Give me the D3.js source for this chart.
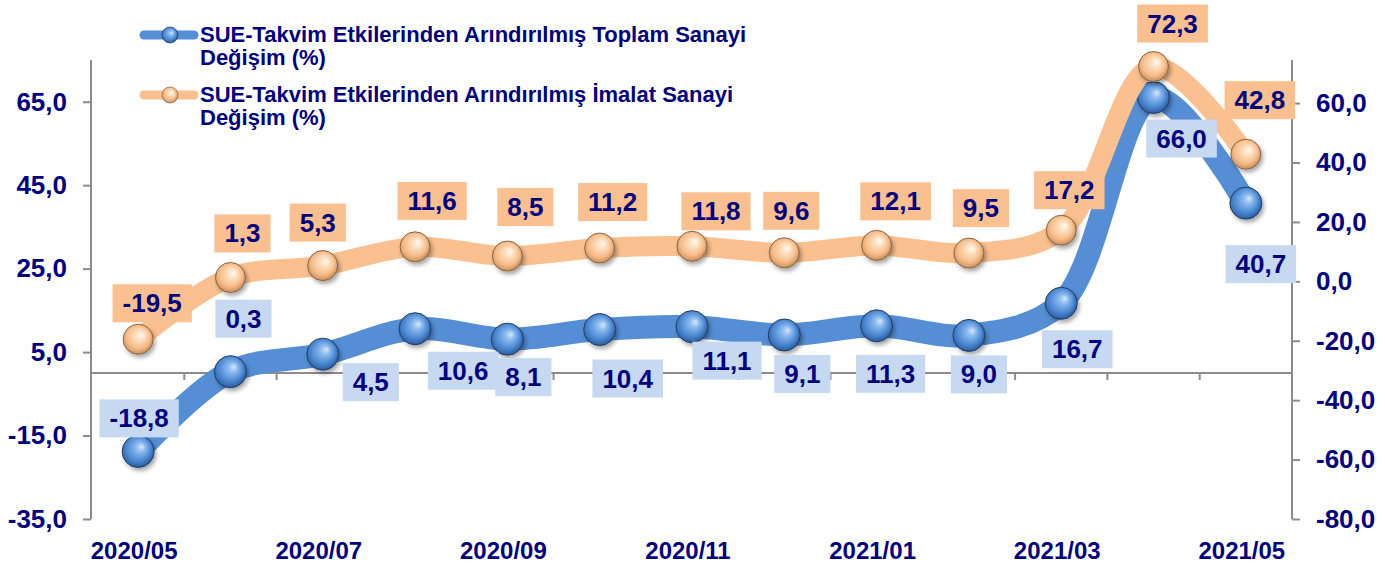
<!DOCTYPE html>
<html>
<head>
<meta charset="utf-8">
<script src="https://cdn.jsdelivr.net/npm/d3@7"></script>
<style>
  body { margin: 0; background: #fff; }
  svg text { font-family: "Liberation Sans", Arial, sans-serif; font-weight: bold; fill: #000080; }
</style>
</head>
<body>
<script>
// Data
const months = ['2020/05', '2020/06', '2020/07', '2020/08', '2020/09', '2020/10', '2020/11',
                '2020/12', '2021/01', '2021/02', '2021/03', '2021/04', '2021/05'];
const toplam = [-18.8, 0.3, 4.5, 10.6, 8.1, 10.4, 11.1, 9.1, 11.3, 9.0, 16.7, 66.0, 40.7];
const imalat = [-19.5, 1.3, 5.3, 11.6, 8.5, 11.2, 11.8, 9.6, 12.1, 9.5, 17.2, 72.3, 42.8];
const leftTicks = [-35, -15, 5, 25, 45, 65];
const rightTicks = [-80, -60, -40, -20, 0, 20, 40, 60];
const shownMonths = ['2020/05', '2020/07', '2020/09', '2020/11', '2021/01', '2021/03', '2021/05'];
const legendLines = [
  ['SUE-Takvim Etkilerinden Arındırılmış Toplam Sanayi', 'Değişim (%)'],
  ['SUE-Takvim Etkilerinden Arındırılmış İmalat Sanayi', 'Değişim (%)']
];

// label placement (offset of box centre from the point)
const toplamLabelOff = [[1,-33],[13,-53],[48,28],[48,42],[16,38],[28,49],[35,34],[18,39],[14,48],[10,39],[16,46],[28,41],[15,61]];
const imalatLabelOff = [[14,-36],[12,-44],[-5,-43],[17,-46],[18,-49],[13,-46],[24,-35],[7,-42],[19,-44],[12,-45],[8,-40],[19,-43],[14,-54]];

const width = 1385, height = 565;
const plotTop = 60, plotBottom = 519, plotLeft = 92, plotRight = 1292;

const loc = d3.formatLocale({ decimal: ',', thousands: '.', grouping: [3], currency: ['', ''], minus: '-' });
const fmt = loc.format('.1f');

const x = d3.scaleBand().domain(months).range([plotLeft, plotRight]).paddingInner(0).paddingOuter(0);
const cx = d => x(d) + x.bandwidth() / 2;
const yL = d3.scaleLinear().domain([-35, 65]).range([plotBottom, plotBottom - 100 * 459 / 110]);
const yR = d3.scaleLinear().domain([-80, 60]).range([plotBottom, plotBottom - 140 * 459 / 154.5]);

const svg = d3.select('body').append('svg')
  .attr('width', width)
  .attr('height', height);

const defs = svg.append('defs');
const shadow = defs.append('filter').attr('id', 'shadow')
  .attr('x', '-50%').attr('y', '-50%').attr('width', '200%').attr('height', '200%');
shadow.append('feDropShadow').attr('dx', 2).attr('dy', 3).attr('stdDeviation', 2)
  .attr('flood-color', '#000').attr('flood-opacity', 0.35);

function sphere(id, stops) {
  const g = defs.append('radialGradient').attr('id', id)
    .attr('cx', '45%').attr('cy', '45%').attr('r', '60%')
    .attr('fx', '62%').attr('fy', '35%');
  stops.forEach(s => g.append('stop').attr('offset', s[0]).attr('stop-color', s[1]));
}
sphere('blueBall', [['0%', '#d6e8fb'], ['25%', '#8ab9ee'], ['65%', '#4a86d0'], ['100%', '#23508f']]);
sphere('orangeBall', [['0%', '#fffaf2'], ['25%', '#fde0c2'], ['65%', '#f6bb88'], ['100%', '#b9824f']]);

// axes
const axisColor = '#8c8c8c';

const gL = svg.append('g')
  .attr('transform', `translate(${plotLeft - 1},0)`)
  .call(d3.axisLeft(yL).tickValues(leftTicks).tickFormat(fmt).tickSize(8).tickPadding(16).tickSizeOuter(0));
gL.select('.domain').remove();
gL.append('line').attr('y1', plotTop).attr('y2', plotBottom).attr('stroke', axisColor).attr('stroke-width', 2);

const gR = svg.append('g')
  .attr('transform', `translate(${plotRight},0)`)
  .call(d3.axisRight(yR).tickValues(rightTicks).tickFormat(fmt).tickSize(8).tickPadding(16).tickSizeOuter(0));
gR.select('.domain').remove();
gR.append('line').attr('y1', plotTop).attr('y2', plotBottom).attr('stroke', axisColor).attr('stroke-width', 2);

[gL, gR].forEach(g => {
  g.selectAll('.tick line').attr('stroke', axisColor).attr('stroke-width', 2);
  g.selectAll('.tick text').style('font-size', '26px');
});

// category axis crossing at 0 of the left axis
const gX = svg.append('g').attr('transform', `translate(0,${yL(0)})`);
gX.append('line').attr('x1', plotLeft - 1).attr('x2', plotRight)
  .attr('stroke', axisColor).attr('stroke-width', 2);
gX.selectAll('line.tk').data(months.slice(1)).join('line')
  .attr('class', 'tk')
  .attr('x1', d => x(d)).attr('x2', d => x(d))
  .attr('y1', 0).attr('y2', 7)
  .attr('stroke', axisColor).attr('stroke-width', 2);

svg.append('g').selectAll('text').data(shownMonths).join('text')
  .attr('x', d => cx(d) - 4)
  .attr('y', 559)
  .attr('text-anchor', 'middle')
  .style('font-size', '24px')
  .text(d => d);

// series
const curve = d3.curveCatmullRom.alpha(0.5);
const lineL = d3.line().x((d, i) => cx(months[i])).y(d => yL(d)).curve(curve);
const lineR = d3.line().x((d, i) => cx(months[i])).y(d => yR(d)).curve(curve);

function drawSeries(values, line, y, color, width, ball, r) {
  svg.append('path')
    .datum(values)
    .attr('fill', 'none')
    .attr('stroke', color)
    .attr('stroke-width', width)
    .attr('stroke-linecap', 'round')
    .attr('stroke-linejoin', 'round')
    .attr('d', line);
  svg.append('g').selectAll('circle').data(values).join('circle')
    .attr('cx', (d, i) => cx(months[i]))
    .attr('cy', d => y(d))
    .attr('r', r)
    .attr('fill', `url(#${ball})`)
    .attr('stroke', ball === 'blueBall' ? '#1f3d66' : '#8a6440')
    .attr('stroke-width', 1)
    .attr('filter', 'url(#shadow)');
}

drawSeries(toplam, lineL, yL, '#558ed5', 23, 'blueBall', 16);
drawSeries(imalat, lineR, yR, '#fac090', 20, 'orangeBall', 15);

function drawLabels(values, y, offsets, fill) {
  const g = svg.append('g');
  values.forEach((v, i) => {
    const px = cx(months[i]) + offsets[i][0];
    const py = y(v) + offsets[i][1];
    const lab = g.append('g');
    const rect = lab.append('rect').attr('fill', fill);
    const t = lab.append('text')
      .attr('x', px).attr('y', py + 9)
      .attr('text-anchor', 'middle')
      .style('font-size', '26px')
      .text(fmt(v));
    const w = t.node().getComputedTextLength() + 20;
    rect.attr('x', px - w / 2).attr('y', py - 19).attr('width', w).attr('height', 38);
  });
}

drawLabels(toplam, yL, toplamLabelOff, '#c6d9f1');
drawLabels(imalat, yR, imalatLabelOff, '#fac090');

// legend
const legend = svg.append('g');
[['#558ed5', 'blueBall', 35], ['#fac090', 'orangeBall', 95]].forEach((s, i) => {
  legend.append('line')
    .attr('x1', 144).attr('x2', 194).attr('y1', s[2]).attr('y2', s[2])
    .attr('stroke', s[0]).attr('stroke-width', 9).attr('stroke-linecap', 'round');
  legend.append('circle')
    .attr('cx', 170).attr('cy', s[2]).attr('r', 8)
    .attr('fill', `url(#${s[1]})`)
    .attr('stroke', i === 0 ? '#1f3d66' : '#8a6440').attr('stroke-width', 0.7);
  const t = legend.append('text')
    .attr('x', 200).attr('y', s[2] + 7)
    .style('font-size', '22px');
  legendLines[i].forEach((ln, j) => {
    t.append('tspan').attr('x', 200).attr('dy', j === 0 ? 0 : 23).text(ln);
  });
});
</script>
</body>
</html>
